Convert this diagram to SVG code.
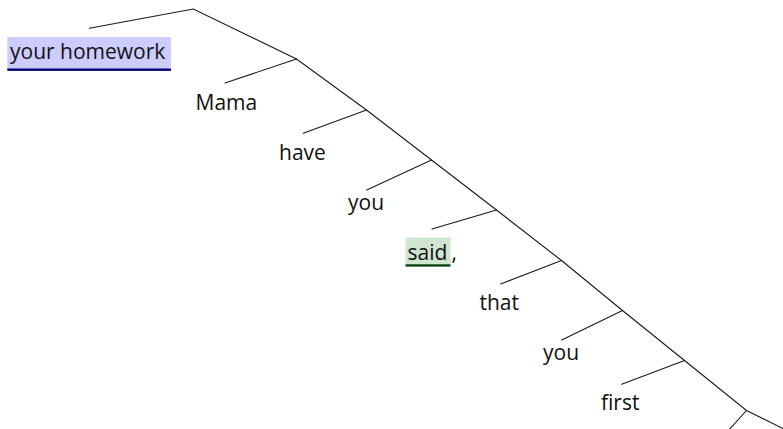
<svg xmlns="http://www.w3.org/2000/svg" width="783" height="429" viewBox="0 0 783 429">
  <style>
    .lbl { font-family: "Open Sans", "Liberation Sans", Arial, sans-serif; font-size: 21px; fill: #111111; }
    .ln { stroke: #1a1a1a; stroke-width: 1.1; fill: none; stroke-linecap: round; }
  </style>
  <rect width="783" height="429" fill="#ffffff"/>

  <!-- connectors: the slanted trunk and its side branches -->
  <g id="connectors" class="ln">
    <polyline points="89.3,28.3 193.3,9 296.5,59 366.5,110 431.5,160 496.5,210 561.5,260.5 622.5,310.5 684.5,360.5 746.5,410.5 790,432"/>
    <line x1="296.5" y1="59" x2="225" y2="83"/>
    <line x1="366.5" y1="110" x2="303.3" y2="133.3"/>
    <line x1="431.5" y1="160" x2="366.7" y2="190"/>
    <line x1="496.5" y1="210" x2="432" y2="229"/>
    <line x1="561.5" y1="260.5" x2="500.7" y2="284"/>
    <line x1="622.5" y1="310.5" x2="561.7" y2="340"/>
    <line x1="684.5" y1="360.5" x2="621.7" y2="384.3"/>
    <line x1="746.5" y1="410.5" x2="727" y2="432"/>
  </g>

  <g id="n-your-homework">
    <rect x="7.3" y="37" width="163.7" height="32.5" fill="#ccccff"/>
    <rect x="7.3" y="68.5" width="163.7" height="2.4" fill="#00007f"/>
    <text class="lbl" x="10" y="58.5">your homework</text>
  </g>
  <g id="n-mama"><text class="lbl" x="195.5" y="110">Mama</text></g>
  <g id="n-have"><text class="lbl" x="279" y="160">have</text></g>
  <g id="n-you1"><text class="lbl" x="348" y="210">you</text></g>
  <g id="n-said">
    <rect x="405.5" y="237.5" width="45" height="27.5" fill="#cfe5cf"/>
    <rect x="405.5" y="264.3" width="45" height="2.3" fill="#0b3f0b"/>
    <text class="lbl" x="407.5" y="260">said</text>
    <text class="lbl" x="451.5" y="260">,</text>
  </g>
  <g id="n-that"><text class="lbl" x="479.5" y="310">that</text></g>
  <g id="n-you2"><text class="lbl" x="543" y="360">you</text></g>
  <g id="n-first"><text class="lbl" x="601" y="410">first</text></g>
</svg>
